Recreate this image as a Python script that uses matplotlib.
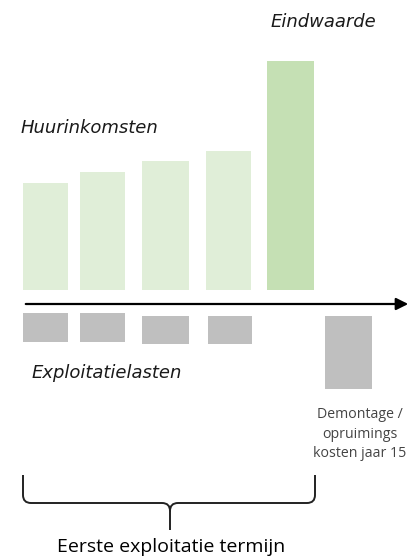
import matplotlib.pyplot as plt
from matplotlib.path import Path
from matplotlib.patches import PathPatch, FancyArrowPatch

# =========================
# DATA (pixel-like units, baseline of green bars = 0)
# =========================
income_x = [45.5, 102.5, 165.5, 228.5, 290.5]
income = [107, 118, 129, 139, 229]
income_colors = ["#e0eed8", "#e0eed8", "#e0eed8", "#e0eed8", "#c5e0b4"]
income_widths = [45, 45, 47, 45, 47]

cost_x = [45.5, 102.5, 165.5, 230, 348.5]
cost_top = [-23, -23, -26, -26, -26]
cost = [29, 29, 28, 28, 73]
cost_widths = [45, 45, 47, 44, 47]

font = ["Open Sans", "DejaVu Sans"]
ital = ["DejaVu Sans"]

# =========================
# FIGURE
# =========================
fig = plt.figure(figsize=(4.12, 5.57), dpi=100)
ax = fig.add_axes([0, 0, 1, 1])
ax.set_xlim(0, 412)
ax.set_ylim(-267, 290)
ax.axis("off")

# green bars (income + end value)
ax.bar(income_x, income, width=income_widths, color=income_colors, bottom=0)

# gray bars (costs), hanging below the time axis
ax.bar(cost_x, [-c for c in cost], width=cost_widths, bottom=cost_top, color="#bfbfbf")

# time axis arrow
arrow = FancyArrowPatch((23, -14), (411, -14), arrowstyle="-|>", mutation_scale=18,
                        color="black", linewidth=1.6)
ax.add_patch(arrow)

# labels
ax.text(21, 162, "Huurinkomsten", fontsize=13, style="italic", family=ital,
        color="#1a1a1a", va="center")
ax.text(271, 268, "Eindwaarde", fontsize=13, style="italic", family=ital,
        color="#1a1a1a", va="center")
ax.text(32, -83, "Exploitatielasten", fontsize=13, style="italic", family=ital,
        color="#1a1a1a", va="center")
ax.text(360, -144, "Demontage /\nopruimings\nkosten jaar 15", fontsize=10.2,
        family=font, color="#444444", ha="center", va="center", linespacing=1.45)
ax.text(171, -257, "Eerste exploitatie termijn", fontsize=14, family=font,
        color="black", ha="center", va="center")

# =========================
# BRACE
# =========================
x0, x1, xm = 23, 315, 170
ytop, ymid, ytip = -185, -213, -240
r = 8
verts = [
    (x0, ytop), (x0, ymid + r), (x0, ymid), (x0 + r, ymid),
    (xm - r, ymid), (xm, ymid), (xm, ymid - r), (xm, ytip),
    (xm, ymid - r), (xm, ymid), (xm + r, ymid),
    (x1 - r, ymid), (x1, ymid), (x1, ymid + r), (x1, ytop),
]
codes = [
    Path.MOVETO, Path.LINETO, Path.CURVE3, Path.CURVE3,
    Path.LINETO, Path.CURVE3, Path.CURVE3, Path.LINETO,
    Path.MOVETO, Path.CURVE3, Path.CURVE3,
    Path.LINETO, Path.CURVE3, Path.CURVE3, Path.LINETO,
]
ax.add_patch(PathPatch(Path(verts, codes), fill=False, edgecolor="#222222", linewidth=1.4))

fig.savefig("out.png", dpi=100)
